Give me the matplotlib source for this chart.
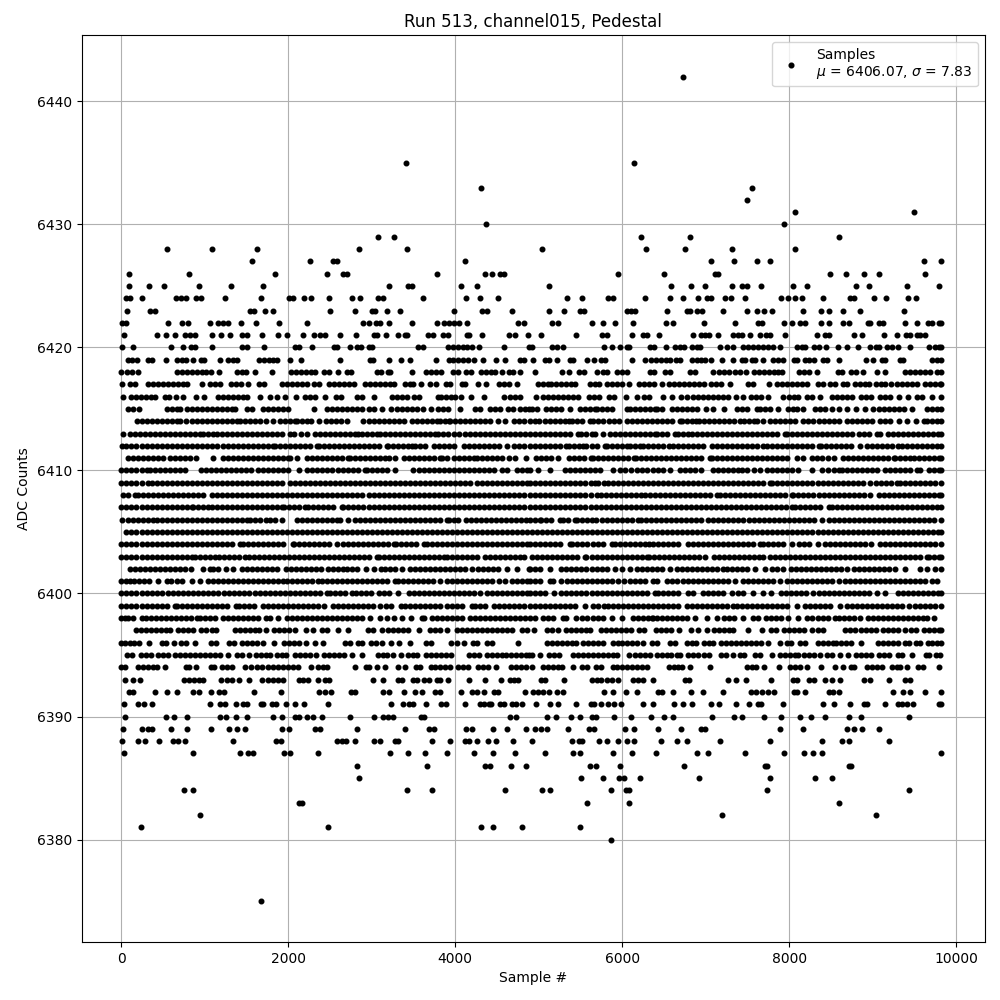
import matplotlib
matplotlib.use('Agg')
import matplotlib.pyplot as plt

# sample numbers, one list per ADC level
s6443 = [8024]
s6442 = [6730]
s6435 = [3413, 6144]
s6433 = [4311, 7557]
s6432 = [7497]
s6431 = [8072, 9497]
s6430 = [4371, 7940]
s6429 = [3078, 3269, 6228, 6814, 8599]
s6428 = [548, 1088, 1628, 2852, 3416, 5040, 6288, 6756, 7320, 8076]
s6427 = [1568, 2264, 2540, 2580, 4112, 7068, 7344, 7612, 7776, 9612, 9816]
s6426 = [92, 812, 1844, 2468, 2660, 2700, 3776, 4352, 4436, 4540, 4588, 5952, 6504, 7116, 7152, 8484, 8676, 8892, 9072, 9628]
s6425 = [92, 332, 512, 932, 1316, 1700, 3200, 3428, 3480, 4064, 4256, 5124, 6588, 6828, 6996, 7320, 7440, 7500, 7668, 8052, 8220, 8796, 8952, 9408, 9792]
s6424 = [52, 108, 248, 656, 712, 776, 896, 956, 1244, 1676, 2012, 2060, 2192, 2276, 2492, 2768, 2864, 3068, 3128, 3608, 4124, 4292, 4508, 5340, 5520, 5832, 5892, 6276, 6576, 6724, 6912, 7020, 7060, 7236, 7308, 7476, 7908, 7992, 8068, 8160, 8400, 8732, 8780, 9012, 9156, 9420, 9516]
s6423 = [68, 344, 404, 1540, 1592, 1724, 1820, 2504, 2804, 3000, 3032, 3176, 3332, 3980, 4316, 4380, 4676, 5124, 5304, 5496, 5544, 6060, 6108, 6152, 6540, 6780, 6812, 6900, 6960, 7212, 7500, 7620, 7704, 7800, 8172, 8376, 8472, 8640, 8844, 9372]
s6422 = [4, 60, 560, 728, 800, 1060, 1160, 1220, 1280, 1436, 1616, 1892, 2220, 2900, 2960, 3044, 3092, 3200, 3476, 3776, 3868, 3920, 3980, 4040, 4140, 4748, 4820, 5160, 5232, 5640, 5772, 5916, 6132, 6528, 6612, 6984, 7356, 7632, 7672, 7944, 8040, 8132, 8196, 8376, 8472, 8640, 8712, 8940, 8972, 9072, 9120, 9384, 9528, 9660, 9712, 9792, 9820]
s6421 = [32, 428, 536, 644, 764, 820, 884, 1088, 1196, 1304, 1448, 1508, 1688, 1880, 1988, 2180, 2312, 2380, 2440, 2624, 2816, 3020, 3060, 3164, 3308, 3392, 3420, 3668, 3728, 3848, 3908, 4140, 4160, 4316, 4640, 4712, 4868, 5024, 5448, 5760, 5820, 6120, 6252, 6292, 6444, 6852, 6948, 6996, 7044, 7144, 7332, 7392, 7440, 7528, 7656, 7728, 7776, 7956, 8328, 8424, 8472, 8772, 8868, 9132, 9288, 9396, 9444, 9528, 9564, 9624]
s6420 = [8, 140, 596, 740, 836, 884, 1088, 1448, 1508, 1712, 2084, 2132, 2288, 2552, 2588, 2744, 2828, 2876, 2960, 2996, 3548, 3608, 3908, 3968, 4028, 4088, 4136, 4196, 4280, 4580, 4884, 4920, 5160, 5220, 5292, 5784, 5880, 5976, 6060, 6084, 6336, 6384, 6528, 6636, 6696, 6744, 6840, 6900, 6936, 7176, 7260, 7332, 7452, 7512, 7572, 7632, 7692, 7752, 7812, 7896, 8100, 8160, 8196, 8304, 8352, 8436, 8580, 8688, 8820, 8964, 9036, 9072, 9168, 9228, 9300, 9444, 9672, 9744, 9792, 9820]
s6419 = [80, 128, 188, 320, 368, 536, 668, 728, 776, 860, 956, 992, 1184, 1280, 1340, 1388, 1652, 1712, 1772, 1820, 1868, 2024, 2156, 2624, 2972, 3008, 3200, 3344, 3452, 3764, 3920, 3968, 4028, 4088, 4148, 4220, 4328, 4484, 4592, 4772, 4820, 4932, 5076, 5124, 5220, 5376, 5412, 5580, 5664, 5748, 5796, 6120, 6276, 6348, 6408, 6468, 6528, 6576, 6648, 6696, 6840, 6900, 6948, 6996, 7068, 7200, 7332, 7440, 7476, 7560, 7596, 7692, 7812, 7872, 7932, 8064, 8100, 8196, 8244, 8304, 8400, 8448, 8592, 8916, 9000, 9108, 9144, 9324, 9360, 9708, 9768, 9820]
s6418 = [0, 68, 128, 200, 668, 728, 788, 848, 908, 968, 1016, 1076, 1172, 1388, 1448, 1496, 1604, 1808, 2036, 2096, 2156, 2216, 2276, 2324, 2432, 2492, 2600, 2708, 2756, 3056, 3104, 3188, 3212, 3476, 3644, 3704, 3764, 3824, 3968, 4028, 4124, 4184, 4304, 4364, 4424, 4472, 4556, 4640, 4688, 4772, 4952, 5280, 5364, 5484, 5544, 5700, 5772, 5820, 5940, 6000, 6060, 6336, 6384, 6516, 6576, 6816, 6876, 7092, 7164, 7224, 7284, 7356, 7416, 7488, 7584, 7644, 7704, 7764, 7824, 7872, 7920, 8124, 8184, 8244, 8328, 8580, 8628, 8736, 8796, 8880, 9048, 9144, 9384, 9444, 9504, 9564, 9624, 9684, 9768, 9816]
s6417 = [8, 104, 164, 320, 380, 440, 500, 560, 620, 680, 740, 788, 968, 1064, 1124, 1184, 1316, 1376, 1436, 1520, 1652, 1712, 1928, 1988, 2048, 2108, 2168, 2228, 2312, 2372, 2492, 2552, 2612, 2672, 2732, 2792, 2912, 2972, 3032, 3092, 3152, 3212, 3260, 3392, 3452, 3488, 3584, 3692, 3764, 3884, 3932, 4076, 4112, 4268, 4364, 4520, 4580, 4640, 4740, 4992, 5052, 5112, 5148, 5208, 5268, 5328, 5388, 5436, 5616, 5676, 5724, 5820, 5880, 5940, 6000, 6084, 6204, 6264, 6324, 6384, 6476, 6564, 6624, 6684, 6744, 6804, 6864, 6924, 6984, 7068, 7128, 7188, 7296, 7512, 7572, 7764, 7860, 7920, 7980, 8040, 8100, 8160, 8220, 8340, 8400, 8484, 8544, 8640, 8688, 8784, 8844, 8904, 8952, 9036, 9096, 9144, 9216, 9288, 9348, 9408, 9468, 9528, 9624, 9684, 9744, 9804, 9820]
s6416 = [20, 116, 176, 236, 296, 356, 404, 524, 572, 656, 740, 896, 992, 1160, 1220, 1280, 1340, 1400, 1460, 1508, 1664, 1784, 1868, 1964, 2096, 2204, 2264, 2324, 2444, 2576, 2636, 2828, 2888, 3020, 3236, 3296, 3356, 3416, 3500, 3560, 3788, 3824, 3884, 3944, 3992, 4064, 4184, 4340, 4580, 4652, 4712, 4772, 4968, 5052, 5112, 5172, 5232, 5292, 5352, 5412, 5476, 5604, 5664, 5724, 5844, 5904, 6048, 6180, 6264, 6324, 6492, 6600, 6708, 6780, 6852, 6912, 6972, 7032, 7092, 7152, 7212, 7272, 7368, 7452, 7548, 7608, 7668, 7752, 7932, 8004, 8064, 8112, 8220, 8280, 8364, 8508, 8568, 8628, 8688, 8748, 8856, 8916, 8976, 9084, 9144, 9204, 9312, 9420, 9528, 9588, 9708, 9820]
s6415 = [80, 140, 212, 540, 600, 660, 700, 780, 840, 900, 964, 1024, 1084, 1144, 1204, 1264, 1324, 1360, 1508, 1568, 1700, 1760, 1820, 1880, 1940, 2000, 2312, 2460, 2520, 2580, 2640, 2700, 2760, 2820, 2880, 2960, 3020, 3120, 3224, 3300, 3360, 3420, 3480, 3540, 3612, 3708, 3788, 3848, 3908, 4052, 4240, 4300, 4420, 4480, 4540, 4628, 4688, 4772, 4832, 4888, 4920, 4980, 5092, 5152, 5212, 5272, 5376, 5492, 5552, 5612, 5672, 5700, 5760, 5820, 5880, 6060, 6092, 6152, 6212, 6272, 6332, 6392, 6412, 6480, 6592, 6652, 6712, 6772, 6832, 6892, 7004, 7092, 7220, 7372, 7432, 7500, 7612, 7652, 7712, 7772, 7872, 7992, 8052, 8092, 8172, 8312, 8372, 8432, 8512, 8592, 8692, 8804, 8912, 9000, 9072, 9132, 9192, 9252, 9312, 9372, 9472, 9652, 9712, 9772, 9820]
s6414 = [188, 248, 308, 368, 428, 488, 548, 608, 668, 700, 772, 840, 900, 960, 1020, 1080, 1140, 1200, 1260, 1320, 1380, 1420, 1480, 1540, 1600, 1660, 1728, 1812, 1900, 1960, 2020, 2080, 2108, 2164, 2224, 2268, 2364, 2448, 2508, 2568, 2628, 2700, 2900, 2960, 3020, 3080, 3140, 3200, 3260, 3320, 3388, 3480, 3540, 3600, 3660, 3720, 3780, 3820, 3880, 3920, 3940, 4000, 4060, 4120, 4180, 4240, 4300, 4360, 4420, 4508, 4592, 4700, 4760, 4820, 4900, 4960, 5004, 5072, 5132, 5192, 5252, 5312, 5364, 5404, 5464, 5524, 5612, 5652, 5712, 5764, 5840, 5900, 5964, 6060, 6120, 6180, 6240, 6300, 6360, 6420, 6480, 6540, 6600, 6692, 6712, 6772, 6832, 6880, 6920, 6980, 7040, 7100, 7160, 7220, 7280, 7340, 7412, 7464, 7524, 7580, 7612, 7692, 7772, 7836, 7896, 7956, 8016, 8076, 8164, 8232, 8292, 8352, 8412, 8472, 8532, 8592, 8692, 8752, 8812, 8872, 8932, 8992, 9092, 9152, 9212, 9312, 9408, 9520, 9612, 9652, 9712, 9772, 9820]
s6413 = [20, 100, 160, 220, 280, 340, 400, 460, 520, 580, 640, 700, 760, 820, 880, 940, 972, 1040, 1100, 1140, 1200, 1260, 1320, 1380, 1440, 1500, 1560, 1620, 1680, 1740, 1800, 1860, 1920, 2020, 2072, 2152, 2228, 2320, 2380, 2440, 2500, 2560, 2620, 2680, 2740, 2800, 2840, 2880, 2940, 3000, 3060, 3092, 3152, 3212, 3272, 3332, 3392, 3452, 3512, 3572, 3632, 3692, 3760, 3788, 3848, 3908, 3980, 4040, 4120, 4180, 4240, 4300, 4360, 4420, 4480, 4540, 4600, 4660, 4720, 4780, 4840, 4900, 4960, 5020, 5080, 5140, 5200, 5260, 5320, 5380, 5472, 5512, 5572, 5632, 5672, 5772, 5852, 5912, 5972, 6032, 6092, 6152, 6212, 6272, 6332, 6392, 6412, 6472, 6532, 6632, 6672, 6732, 6792, 6832, 6892, 6952, 7012, 7072, 7132, 7192, 7252, 7312, 7372, 7432, 7492, 7552, 7612, 7672, 7732, 7792, 7852, 7952, 7972, 8032, 8092, 8152, 8212, 8272, 8332, 8392, 8452, 8512, 8572, 8632, 8692, 8752, 8832, 8892, 8952, 9052, 9092, 9180, 9240, 9300, 9360, 9420, 9480, 9540, 9600, 9660, 9720, 9780, 9820]
s6412 = [8, 60, 120, 180, 240, 300, 360, 420, 480, 540, 600, 660, 720, 780, 840, 900, 960, 1020, 1080, 1140, 1220, 1280, 1340, 1400, 1460, 1520, 1580, 1640, 1700, 1760, 1820, 1840, 1900, 1960, 2020, 2080, 2140, 2200, 2260, 2340, 2368, 2428, 2488, 2548, 2608, 2668, 2728, 2788, 2848, 2908, 2968, 3028, 3088, 3180, 3192, 3252, 3312, 3372, 3432, 3480, 3520, 3580, 3640, 3740, 3800, 3860, 3920, 3980, 4100, 4160, 4220, 4280, 4340, 4400, 4460, 4520, 4620, 4700, 4760, 4820, 4900, 4960, 5020, 5080, 5140, 5200, 5260, 5332, 5364, 5424, 5484, 5532, 5572, 5632, 5692, 5792, 5812, 5872, 5932, 5992, 6052, 6092, 6152, 6212, 6244, 6304, 6364, 6424, 6484, 6564, 6604, 6664, 6724, 6784, 6844, 6904, 6964, 7072, 7132, 7192, 7252, 7312, 7372, 7432, 7492, 7552, 7612, 7692, 7740, 7800, 7860, 7920, 7980, 8040, 8100, 8160, 8220, 8280, 8352, 8380, 8440, 8500, 8560, 8620, 8680, 8740, 8852, 8932, 8992, 9052, 9112, 9172, 9232, 9300, 9352, 9412, 9472, 9532, 9592, 9652, 9712, 9772, 9820]
s6411 = [80, 140, 200, 260, 320, 380, 440, 500, 580, 640, 700, 760, 820, 892, 1100, 1220, 1280, 1340, 1400, 1460, 1520, 1580, 1640, 1700, 1760, 1820, 1880, 1940, 2000, 2020, 2100, 2220, 2280, 2340, 2400, 2460, 2520, 2580, 2640, 2720, 2740, 2800, 2860, 2920, 2980, 3040, 3100, 3160, 3208, 3280, 3380, 3440, 3500, 3560, 3620, 3680, 3740, 3820, 3840, 3900, 3980, 4040, 4100, 4160, 4220, 4260, 4320, 4380, 4440, 4500, 4560, 4640, 4720, 4848, 4964, 5024, 5084, 5144, 5232, 5364, 5424, 5484, 5544, 5624, 5652, 5712, 5772, 5832, 5892, 5952, 6012, 6072, 6140, 6164, 6224, 6284, 6344, 6404, 6464, 6524, 6584, 6644, 6704, 6764, 6824, 6884, 6944, 7052, 7072, 7132, 7192, 7252, 7312, 7372, 7432, 7492, 7552, 7612, 7672, 7732, 7792, 7852, 7912, 7972, 8092, 8164, 8272, 8332, 8392, 8464, 8540, 8640, 8700, 8760, 8820, 8880, 8940, 9000, 9060, 9120, 9180, 9252, 9272, 9332, 9392, 9452, 9492, 9552, 9612, 9672, 9732, 9792, 9820]
s6410 = [0, 60, 120, 180, 240, 300, 340, 400, 460, 520, 580, 640, 700, 760, 952, 1012, 1072, 1132, 1192, 1252, 1312, 1372, 1432, 1492, 1552, 1640, 1700, 1760, 1820, 1880, 1940, 2000, 2132, 2220, 2280, 2340, 2400, 2460, 2520, 2600, 2660, 2720, 2780, 2840, 2920, 2940, 3000, 3060, 3120, 3180, 3280, 3492, 3568, 3628, 3688, 3748, 3808, 3868, 3928, 3988, 4048, 4108, 4168, 4228, 4288, 4348, 4408, 4468, 4560, 4620, 4740, 4800, 4860, 4900, 4992, 5132, 5312, 5372, 5432, 5492, 5552, 5612, 5672, 5732, 5892, 5972, 6032, 6100, 6172, 6232, 6292, 6372, 6432, 6492, 6572, 6692, 6752, 6812, 6872, 6944, 7092, 7152, 7212, 7272, 7332, 7392, 7432, 7500, 7580, 7652, 7732, 7792, 7852, 7912, 7972, 8032, 8112, 8272, 8392, 8464, 8532, 8592, 8632, 8692, 8752, 8812, 8872, 8932, 8992, 9052, 9152, 9212, 9272, 9332, 9392, 9452, 9532, 9572, 9672, 9732, 9792, 9820]
s6409 = [0, 60, 120, 180, 240, 320, 360, 420, 480, 540, 600, 660, 720, 780, 840, 900, 960, 1020, 1080, 1140, 1200, 1260, 1320, 1380, 1440, 1500, 1560, 1620, 1680, 1740, 1800, 1860, 1920, 2020, 2080, 2140, 2200, 2260, 2320, 2380, 2440, 2500, 2560, 2620, 2680, 2740, 2800, 2860, 2920, 2980, 3040, 3100, 3160, 3220, 3280, 3340, 3400, 3460, 3520, 3580, 3640, 3700, 3760, 3820, 3880, 3940, 4000, 4060, 4120, 4180, 4260, 4320, 4380, 4440, 4500, 4560, 4620, 4680, 4740, 4800, 4860, 4900, 4960, 5020, 5080, 5140, 5200, 5260, 5320, 5380, 5440, 5500, 5560, 5620, 5672, 5712, 5780, 5832, 5892, 5952, 6012, 6072, 6132, 6192, 6252, 6312, 6372, 6432, 6492, 6552, 6612, 6672, 6732, 6792, 6852, 6912, 6972, 7032, 7092, 7152, 7212, 7272, 7332, 7392, 7452, 7512, 7572, 7632, 7692, 7772, 7800, 7860, 7920, 7980, 8040, 8100, 8160, 8220, 8280, 8340, 8400, 8460, 8520, 8580, 8640, 8700, 8760, 8820, 8880, 8972, 9044, 9104, 9164, 9224, 9292, 9324, 9384, 9444, 9504, 9564, 9624, 9684, 9744, 9820]
s6408 = [20, 80, 160, 200, 260, 320, 380, 440, 500, 560, 620, 680, 740, 800, 860, 920, 980, 1080, 1140, 1200, 1260, 1320, 1380, 1440, 1500, 1560, 1620, 1680, 1740, 1800, 1860, 1920, 1980, 2040, 2100, 2160, 2220, 2280, 2340, 2400, 2460, 2520, 2580, 2640, 2700, 2760, 2820, 2880, 2960, 3020, 3080, 3140, 3200, 3260, 3320, 3380, 3440, 3500, 3560, 3620, 3680, 3740, 3800, 3860, 3920, 3980, 4040, 4100, 4160, 4220, 4280, 4340, 4400, 4460, 4520, 4580, 4640, 4700, 4760, 4820, 4900, 4960, 5020, 5080, 5140, 5200, 5260, 5320, 5380, 5440, 5500, 5560, 5620, 5692, 5740, 5800, 5860, 5920, 5980, 6040, 6100, 6160, 6220, 6272, 6332, 6392, 6452, 6512, 6572, 6632, 6692, 6752, 6812, 6872, 6932, 6992, 7052, 7132, 7172, 7232, 7292, 7352, 7412, 7472, 7532, 7592, 7652, 7712, 7772, 7832, 7892, 7952, 8032, 8052, 8112, 8172, 8232, 8292, 8352, 8412, 8472, 8532, 8592, 8652, 8712, 8772, 8832, 8892, 8972, 9072, 9132, 9192, 9252, 9312, 9372, 9432, 9492, 9552, 9612, 9672, 9732, 9792, 9820]
s6407 = [0, 60, 120, 180, 240, 300, 360, 420, 480, 540, 600, 660, 720, 780, 840, 860, 920, 980, 1040, 1080, 1140, 1200, 1260, 1320, 1380, 1440, 1500, 1560, 1620, 1680, 1740, 1800, 1860, 1920, 1950, 2010, 2070, 2130, 2200, 2240, 2300, 2360, 2420, 2480, 2540, 2640, 2660, 2720, 2780, 2840, 2900, 2960, 3020, 3080, 3140, 3200, 3260, 3320, 3380, 3440, 3500, 3560, 3620, 3680, 3740, 3800, 3860, 3920, 3980, 4040, 4100, 4160, 4220, 4280, 4340, 4400, 4460, 4520, 4580, 4640, 4700, 4760, 4820, 4900, 4960, 5020, 5080, 5140, 5200, 5260, 5320, 5380, 5440, 5500, 5560, 5620, 5680, 5740, 5800, 5860, 5920, 5980, 6040, 6100, 6160, 6220, 6280, 6340, 6400, 6460, 6520, 6580, 6640, 6700, 6760, 6820, 6880, 6940, 7000, 7060, 7120, 7180, 7240, 7300, 7360, 7420, 7480, 7540, 7600, 7660, 7720, 7780, 7840, 7900, 7960, 8032, 8072, 8132, 8192, 8252, 8312, 8372, 8472, 8512, 8572, 8632, 8692, 8752, 8812, 8872, 8932, 8992, 9052, 9112, 9172, 9232, 9292, 9352, 9412, 9472, 9532, 9592, 9652, 9712, 9772, 9820]
s6406 = [8, 80, 140, 200, 260, 320, 380, 420, 480, 540, 600, 660, 720, 780, 840, 900, 960, 1020, 1080, 1140, 1200, 1260, 1320, 1380, 1440, 1500, 1540, 1600, 1660, 1728, 1780, 1840, 1920, 2100, 2160, 2220, 2280, 2340, 2400, 2460, 2520, 2580, 2620, 2720, 2800, 2860, 2920, 2980, 3040, 3100, 3160, 3220, 3280, 3340, 3400, 3460, 3520, 3580, 3640, 3700, 3760, 3820, 3900, 3920, 3980, 4028, 4128, 4188, 4248, 4308, 4368, 4428, 4488, 4548, 4608, 4668, 4728, 4788, 4848, 4900, 4960, 5012, 5032, 5092, 5152, 5252, 5292, 5352, 5432, 5460, 5520, 5580, 5640, 5684, 5752, 5812, 5872, 5932, 5992, 6052, 6112, 6192, 6220, 6280, 6340, 6400, 6460, 6520, 6580, 6640, 6700, 6760, 6820, 6880, 6940, 7032, 7092, 7152, 7212, 7272, 7332, 7392, 7452, 7524, 7584, 7644, 7704, 7764, 7824, 7884, 7944, 8004, 8064, 8124, 8184, 8244, 8304, 8392, 8480, 8540, 8600, 8660, 8720, 8780, 8840, 8900, 8960, 9020, 9080, 9140, 9200, 9260, 9320, 9380, 9440, 9500, 9560, 9620, 9680, 9740, 9820]
s6405 = [60, 120, 180, 240, 300, 360, 420, 480, 540, 600, 660, 720, 780, 840, 900, 960, 1020, 1080, 1140, 1200, 1260, 1320, 1380, 1440, 1500, 1560, 1620, 1680, 1740, 1800, 1860, 1920, 1980, 2040, 2100, 2160, 2220, 2280, 2340, 2400, 2460, 2520, 2580, 2640, 2700, 2760, 2820, 2880, 2940, 3000, 3060, 3120, 3180, 3240, 3300, 3360, 3420, 3480, 3540, 3600, 3660, 3720, 3780, 3840, 3900, 3960, 4020, 4080, 4140, 4200, 4260, 4320, 4380, 4440, 4500, 4560, 4620, 4680, 4740, 4800, 4860, 4920, 4980, 5040, 5100, 5160, 5220, 5280, 5340, 5400, 5460, 5520, 5580, 5640, 5700, 5760, 5820, 5880, 5940, 6000, 6060, 6120, 6180, 6240, 6300, 6360, 6420, 6480, 6540, 6600, 6660, 6720, 6780, 6840, 6900, 6960, 7020, 7080, 7140, 7200, 7260, 7320, 7380, 7440, 7500, 7560, 7620, 7680, 7740, 7800, 7860, 7920, 7980, 8040, 8100, 8160, 8220, 8280, 8340, 8400, 8460, 8520, 8580, 8640, 8700, 8760, 8820, 8880, 8940, 9000, 9060, 9120, 9180, 9240, 9300, 9360, 9420, 9480, 9540, 9600, 9660, 9720, 9780, 9820]
s6404 = [0, 60, 120, 180, 240, 300, 360, 420, 480, 540, 600, 660, 720, 780, 840, 900, 960, 1020, 1080, 1140, 1200, 1260, 1320, 1420, 1460, 1520, 1580, 1640, 1700, 1760, 1820, 1880, 1940, 2052, 2072, 2132, 2192, 2252, 2312, 2372, 2432, 2492, 2588, 2652, 2712, 2772, 2832, 2892, 2952, 3012, 3072, 3132, 3192, 3260, 3292, 3352, 3412, 3472, 3532, 3620, 3660, 3720, 3780, 3840, 3900, 3960, 4020, 4080, 4140, 4200, 4260, 4320, 4380, 4440, 4500, 4560, 4620, 4680, 4740, 4800, 4860, 4900, 4960, 5020, 5080, 5140, 5200, 5260, 5372, 5404, 5464, 5524, 5584, 5644, 5704, 5764, 5872, 5912, 5972, 6032, 6092, 6152, 6212, 6272, 6324, 6364, 6424, 6484, 6544, 6604, 6664, 6792, 6852, 6912, 6972, 7032, 7092, 7152, 7212, 7272, 7332, 7392, 7452, 7512, 7572, 7652, 7692, 7752, 7812, 7872, 7932, 8032, 8124, 8184, 8244, 8340, 8432, 8492, 8552, 8612, 8672, 8732, 8792, 8852, 8912, 8980, 9084, 9144, 9204, 9264, 9324, 9384, 9444, 9504, 9564, 9624, 9684, 9744, 9820]
s6403 = [0, 60, 120, 180, 240, 300, 360, 420, 480, 540, 600, 660, 720, 780, 840, 880, 940, 1000, 1060, 1120, 1172, 1232, 1292, 1352, 1412, 1480, 1528, 1588, 1648, 1708, 1768, 1828, 1888, 1948, 2008, 2068, 2128, 2188, 2248, 2308, 2368, 2428, 2488, 2548, 2608, 2668, 2728, 2788, 2848, 2908, 2968, 3060, 3080, 3140, 3200, 3260, 3320, 3380, 3440, 3500, 3560, 3620, 3680, 3740, 3800, 3860, 3900, 3960, 4020, 4080, 4140, 4200, 4260, 4360, 4420, 4480, 4540, 4600, 4660, 4720, 4780, 4828, 4924, 4984, 5044, 5104, 5164, 5224, 5284, 5344, 5404, 5464, 5552, 5572, 5632, 5692, 5752, 5812, 5872, 5932, 5992, 6052, 6112, 6172, 6232, 6292, 6324, 6384, 6444, 6504, 6564, 6624, 6684, 6744, 6804, 6864, 6924, 6992, 7100, 7160, 7220, 7280, 7340, 7400, 7460, 7520, 7580, 7640, 7692, 7772, 7832, 7892, 7952, 8012, 8072, 8132, 8192, 8252, 8312, 8372, 8432, 8492, 8552, 8612, 8672, 8732, 8792, 8852, 8912, 8972, 9032, 9092, 9152, 9212, 9272, 9332, 9392, 9452, 9512, 9572, 9652, 9672, 9732, 9792, 9820]
s6402 = [100, 160, 220, 280, 340, 400, 460, 520, 580, 640, 700, 760, 828, 980, 1060, 1100, 1160, 1252, 1332, 1440, 1500, 1560, 1620, 1680, 1740, 1800, 1860, 1968, 2028, 2088, 2148, 2208, 2268, 2328, 2388, 2480, 2540, 2600, 2660, 2708, 2768, 2828, 2932, 3020, 3108, 3160, 3220, 3280, 3360, 3460, 3520, 3580, 3640, 3700, 3760, 3820, 3880, 3940, 4000, 4060, 4120, 4200, 4272, 4332, 4392, 4452, 4512, 4620, 4740, 4880, 4900, 4960, 5020, 5132, 5272, 5332, 5392, 5452, 5512, 5572, 5632, 5692, 5752, 5812, 5912, 5992, 6092, 6172, 6232, 6292, 6352, 6412, 6472, 6572, 6660, 6720, 6780, 6840, 6900, 6960, 7020, 7080, 7140, 7204, 7252, 7312, 7372, 7432, 7492, 7592, 7712, 7792, 7852, 7932, 8020, 8080, 8140, 8200, 8260, 8320, 8380, 8440, 8500, 8560, 8620, 8692, 8772, 8832, 8892, 8952, 9012, 9072, 9132, 9192, 9272, 9392, 9564, 9652, 9752, 9820]
s6401 = [0, 60, 108, 148, 208, 268, 332, 440, 540, 588, 668, 728, 840, 940, 1040, 1100, 1160, 1220, 1280, 1340, 1400, 1460, 1520, 1580, 1640, 1700, 1760, 1820, 1880, 1932, 1980, 2040, 2100, 2160, 2220, 2280, 2360, 2400, 2460, 2520, 2580, 2640, 2700, 2760, 2820, 2880, 2940, 3000, 3060, 3120, 3180, 3280, 3312, 3372, 3432, 3492, 3552, 3612, 3672, 3732, 3820, 3900, 3960, 4020, 4080, 4140, 4200, 4260, 4320, 4380, 4440, 4520, 4600, 4680, 4740, 4800, 4860, 4900, 4960, 5020, 5132, 5172, 5272, 5340, 5400, 5460, 5520, 5580, 5640, 5700, 5760, 5820, 5880, 5952, 6024, 6092, 6152, 6212, 6272, 6372, 6420, 6540, 6600, 6660, 6732, 6792, 6852, 6912, 6972, 7032, 7092, 7152, 7212, 7272, 7352, 7452, 7512, 7572, 7632, 7692, 7752, 7812, 7892, 7972, 8032, 8092, 8152, 8212, 8272, 8332, 8392, 8452, 8512, 8592, 8672, 8732, 8792, 8852, 8912, 8972, 9032, 9092, 9152, 9212, 9272, 9332, 9392, 9452, 9512, 9572, 9632, 9712, 9772]
s6400 = [0, 60, 120, 180, 240, 300, 360, 420, 480, 560, 620, 680, 740, 800, 860, 920, 980, 1040, 1100, 1160, 1228, 1292, 1352, 1412, 1472, 1532, 1600, 1660, 1720, 1780, 1840, 1900, 1960, 2020, 2080, 2140, 2200, 2260, 2320, 2380, 2460, 2500, 2560, 2620, 2680, 2760, 2812, 2872, 2932, 2992, 3080, 3148, 3208, 3312, 3440, 3500, 3560, 3620, 3680, 3740, 3800, 3860, 3920, 3980, 4040, 4100, 4160, 4220, 4300, 4380, 4440, 4500, 4560, 4620, 4680, 4740, 4800, 4860, 4900, 4960, 5020, 5080, 5188, 5272, 5332, 5392, 5452, 5512, 5572, 5632, 5692, 5752, 5812, 5872, 5932, 5992, 6052, 6112, 6172, 6232, 6292, 6392, 6432, 6492, 6552, 6612, 6672, 6792, 6852, 6972, 7032, 7092, 7152, 7212, 7312, 7392, 7452, 7572, 7692, 7780, 7900, 7960, 8020, 8080, 8140, 8200, 8292, 8352, 8412, 8480, 8540, 8600, 8660, 8720, 8780, 8840, 8900, 8960, 9052, 9152, 9304, 9364, 9424, 9484, 9544, 9604, 9664, 9724, 9784, 9820]
s6399 = [0, 60, 120, 180, 240, 300, 360, 420, 480, 540, 640, 668, 728, 788, 848, 908, 968, 1028, 1088, 1148, 1208, 1268, 1372, 1412, 1472, 1532, 1592, 1700, 1760, 1820, 1880, 1940, 2000, 2060, 2120, 2180, 2240, 2300, 2360, 2428, 2532, 2592, 2652, 2712, 2772, 2832, 2892, 2952, 3012, 3100, 3172, 3232, 3348, 3400, 3460, 3520, 3580, 3640, 3700, 3760, 3820, 3900, 3960, 4020, 4080, 4200, 4240, 4300, 4360, 4460, 4520, 4580, 4640, 4700, 4760, 4820, 4900, 4960, 5020, 5080, 5140, 5200, 5260, 5320, 5380, 5440, 5552, 5644, 5704, 5780, 5832, 5892, 5952, 6012, 6072, 6132, 6192, 6252, 6312, 6372, 6432, 6492, 6552, 6612, 6672, 6772, 6840, 6900, 6960, 7020, 7080, 7140, 7200, 7260, 7332, 7380, 7440, 7500, 7560, 7620, 7680, 7740, 7800, 7860, 7920, 7980, 8092, 8192, 8252, 8312, 8372, 8432, 8492, 8612, 8692, 8752, 8812, 8872, 8932, 8992, 9052, 9112, 9172, 9232, 9292, 9352, 9432, 9512, 9572, 9632, 9692, 9752, 9820]
s6398 = [0, 40, 80, 140, 240, 292, 352, 412, 472, 532, 592, 652, 712, 772, 832, 900, 940, 1000, 1060, 1120, 1212, 1280, 1340, 1400, 1460, 1520, 1580, 1640, 1732, 1780, 1880, 1988, 2048, 2108, 2168, 2228, 2288, 2348, 2408, 2468, 2528, 2588, 2648, 2708, 2768, 2828, 2888, 2980, 3092, 3180, 3260, 3360, 3468, 3600, 3620, 3720, 3780, 3840, 3900, 3960, 4020, 4080, 4180, 4240, 4300, 4360, 4420, 4480, 4540, 4600, 4660, 4720, 4780, 4840, 4900, 4960, 5052, 5112, 5172, 5292, 5332, 5452, 5524, 5584, 5644, 5704, 5764, 5872, 5992, 6124, 6184, 6244, 6304, 6372, 6352, 6412, 6472, 6532, 6592, 6652, 6712, 6772, 6872, 7020, 7140, 7220, 7280, 7340, 7444, 7564, 7624, 7724, 7780, 7840, 7900, 7984, 8112, 8220, 8280, 8340, 8400, 8460, 8552, 8592, 8652, 8712, 8772, 8852, 8940, 9000, 9060, 9120, 9180, 9240, 9300, 9360, 9420, 9480, 9540, 9600, 9652, 9740]
s6397 = [176, 236, 296, 356, 416, 476, 536, 584, 680, 740, 800, 860, 956, 1016, 1088, 1136, 1364, 1424, 1484, 1544, 1604, 1652, 1736, 1832, 1892, 1952, 2012, 2084, 2216, 2300, 2408, 2468, 2600, 2720, 2948, 3008, 3116, 3188, 3248, 3308, 3368, 3428, 3560, 3692, 3752, 3812, 3896, 4016, 4076, 4136, 4196, 4256, 4316, 4376, 4436, 4496, 4556, 4616, 4676, 4796, 4856, 4944, 5100, 5160, 5232, 5328, 5388, 5448, 5508, 5568, 5616, 5748, 5808, 5868, 5928, 5988, 6048, 6108, 6204, 6264, 6408, 6468, 6528, 6588, 6684, 6828, 6912, 7020, 7104, 7164, 7224, 7284, 7332, 7512, 7680, 7788, 7848, 7944, 8004, 8064, 8124, 8184, 8280, 8340, 8400, 8664, 8724, 8784, 8856, 8916, 8976, 9036, 9120, 9180, 9240, 9300, 9384, 9456, 9516, 9612, 9672, 9732, 9792, 9820]
s6396 = [0, 40, 100, 148, 212, 332, 488, 536, 632, 716, 776, 884, 1076, 1136, 1292, 1352, 1448, 1508, 1568, 1628, 1700, 1832, 1952, 2012, 2072, 2132, 2216, 2324, 2420, 2684, 2744, 2840, 2888, 2984, 3044, 3116, 3224, 3320, 3452, 3644, 3704, 3944, 4016, 4100, 4208, 4256, 4376, 4436, 4748, 5100, 5160, 5220, 5280, 5340, 5400, 5448, 5532, 5592, 5652, 5712, 5772, 5892, 5952, 6000, 6060, 6120, 6180, 6252, 6360, 6420, 6576, 6636, 6780, 6840, 6888, 6984, 7044, 7092, 7188, 7248, 7308, 7368, 7428, 7488, 7548, 7608, 7668, 7752, 7896, 7980, 8028, 8136, 8196, 8340, 8400, 8460, 8520, 8556, 8616, 8676, 8736, 8856, 9060, 9120, 9180, 9240, 9300, 9384, 9432, 9516, 9564, 9660, 9708, 9768, 9820]
s6395 = [68, 128, 236, 296, 356, 440, 500, 560, 644, 704, 764, 824, 884, 944, 1004, 1064, 1124, 1184, 1280, 1388, 1448, 1532, 1616, 1676, 1736, 1784, 1868, 1928, 1976, 2084, 2144, 2204, 2264, 2336, 2432, 2492, 2552, 2612, 2672, 2768, 2888, 3068, 3128, 3176, 3248, 3344, 3428, 3488, 3536, 3644, 3704, 3764, 3824, 3884, 3944, 4160, 4220, 4280, 4376, 4436, 4496, 4556, 4604, 4664, 4724, 4784, 4844, 4884, 4920, 5012, 5124, 5184, 5244, 5412, 5472, 5532, 5592, 5652, 5712, 5772, 5832, 5892, 5940, 6084, 6156, 6216, 6276, 6336, 6420, 6480, 6540, 6588, 6660, 6696, 6792, 6852, 6912, 6984, 7044, 7188, 7248, 7332, 7416, 7464, 7596, 7656, 7800, 7896, 7956, 8016, 8076, 8112, 8184, 8244, 8304, 8364, 8448, 8508, 8604, 8700, 8796, 8856, 8916, 8976, 9072, 9132, 9192, 9300, 9348, 9468, 9636, 9672, 9756, 9804]
s6394 = [0, 40, 200, 260, 320, 380, 428, 524, 776, 812, 896, 1076, 1112, 1208, 1268, 1328, 1484, 1556, 1628, 1688, 1760, 1820, 1880, 1940, 2000, 2060, 2120, 2276, 2360, 2420, 2468, 2804, 2924, 2960, 3056, 3152, 3308, 3392, 3524, 3572, 3704, 3752, 3812, 3872, 3932, 4028, 4088, 4148, 4268, 4328, 4388, 4484, 4664, 4724, 4784, 4844, 4920, 5052, 5112, 5172, 5232, 5280, 5412, 5520, 5580, 5688, 5748, 5892, 5940, 6000, 6060, 6120, 6180, 6240, 6300, 6564, 6624, 6672, 6720, 6816, 7056, 7500, 7560, 7608, 7704, 7880, 8016, 8076, 8136, 8212, 8376, 8544, 8640, 8736, 8772, 8928, 8988, 9048, 9108, 9228, 9288, 9324, 9408, 9540, 9600, 9792]
s6393 = [44, 140, 220, 752, 812, 872, 932, 980, 1196, 1260, 1320, 1412, 1532, 1688, 1760, 1820, 1880, 1940, 2132, 2180, 2240, 2360, 2444, 2492, 3008, 3128, 3308, 3360, 3488, 3540, 3620, 3680, 3776, 3820, 3908, 4160, 4352, 4544, 4652, 4700, 4748, 5028, 5076, 5304, 5640, 5692, 5740, 5820, 5880, 5952, 6132, 6192, 6252, 6372, 6756, 6804, 7272, 7368, 7488, 7788, 8052, 8092, 8244, 8304, 8424, 8508, 8604, 8892, 8972, 9192, 9384, 9452]
s6392 = [92, 140, 404, 548, 668, 860, 932, 1076, 1172, 1228, 1592, 1912, 2372, 2440, 2508, 2756, 2804, 3128, 3200, 3380, 3512, 3596, 3752, 3820, 4064, 4196, 4256, 4340, 4460, 4508, 4832, 4932, 4992, 5052, 5124, 5220, 5292, 5784, 5892, 6048, 6180, 6432, 6480, 6612, 6828, 6972, 7212, 7548, 7604, 7680, 7752, 7824, 8064, 8100, 8196, 8472, 8520, 8592, 9240, 9360, 9444, 9624, 9820]
s6391 = [32, 200, 272, 368, 1064, 1184, 1244, 1376, 1460, 1500, 1676, 1700, 1808, 1848, 1976, 2084, 2192, 2480, 3224, 3368, 3440, 3488, 3644, 3824, 3884, 4112, 4292, 4340, 4400, 4428, 4532, 4580, 4676, 4724, 4796, 4968, 5136, 5232, 5448, 5628, 5664, 5748, 5832, 5904, 5988, 6252, 6372, 6624, 6732, 6840, 7068, 7164, 7368, 7524, 7632, 7668, 7932, 8400, 8532, 8724, 8892, 8928, 9144, 9300, 9348, 9408, 9480, 9792, 9820]
s6390 = [44, 536, 632, 788, 1184, 1256, 1376, 1508, 1820, 1928, 2084, 2132, 2220, 2300, 2408, 2744, 3020, 3128, 3188, 3248, 3584, 3620, 4652, 4724, 5100, 5208, 5388, 5496, 5640, 5688, 5904, 6108, 6348, 6504, 6612, 7080, 7344, 7440, 7704, 7908, 8136, 8268, 8424, 8712, 8856, 9432]
s6389 = [20, 248, 312, 368, 596, 788, 1076, 1292, 1388, 1484, 1928, 2012, 2324, 2384, 2828, 3392, 3680, 3740, 4124, 4196, 4448, 4616, 4844, 4956, 5028, 5100, 5352, 5604, 5664, 6036, 6144, 6432, 6708, 6948, 6996, 7896, 8172, 8692, 8772, 8868, 9072]
s6388 = [8, 200, 284, 452, 620, 680, 764, 1340, 1856, 1916, 2588, 2640, 2696, 2804, 3020, 3092, 3272, 3308, 3716, 3932, 4112, 4160, 4256, 4388, 4484, 4688, 4920, 5400, 5484, 5524, 5724, 5820, 5952, 6060, 6144, 6468, 6660, 6780, 7176, 7776, 8388, 8628, 8712, 9192]
s6387 = [32, 860, 1424, 1520, 1580, 1952, 2024, 2360, 3212, 3428, 3632, 3896, 4220, 4448, 4712, 5076, 5412, 5496, 5892, 6120, 6408, 6900, 7032, 7476, 7944, 8184, 8292, 8388, 9820]
s6386 = [2828, 3656, 4352, 4420, 4664, 4844, 5616, 5688, 5976, 6744, 7716, 7740, 8712, 8740]
s6385 = [2852, 5508, 5772, 5964, 6024, 6216, 6924, 7776, 8316, 8508]
s6384 = [752, 860, 3416, 3716, 4592, 5040, 5140, 5868, 6044, 6084, 7740, 9432]
s6383 = [2132, 2168, 5581, 6084, 8599]
s6382 = [946, 7198, 9042]
s6381 = [228, 2479, 4311, 4455, 4802, 5497]
s6380 = [5868]
s6375 = [1677]

levels = [6443, 6442, 6435, 6433, 6432, 6431, 6430, 6429, 6428, 6427, 6426, 6425, 6424, 6423, 6422, 6421,
          6420, 6419, 6418, 6417, 6416, 6415, 6414, 6413, 6412, 6411, 6410, 6409, 6408, 6407, 6406, 6405,
          6404, 6403, 6402, 6401, 6400, 6399, 6398, 6397, 6396, 6395, 6394, 6393, 6392, 6391, 6390, 6389,
          6388, 6387, 6386, 6385, 6384, 6383, 6382, 6381, 6380, 6375]
rows = [s6443, s6442, s6435, s6433, s6432, s6431, s6430, s6429, s6428, s6427, s6426, s6425, s6424, s6423, s6422, s6421,
        s6420, s6419, s6418, s6417, s6416, s6415, s6414, s6413, s6412, s6411, s6410, s6409, s6408, s6407, s6406, s6405,
        s6404, s6403, s6402, s6401, s6400, s6399, s6398, s6397, s6396, s6395, s6394, s6393, s6392, s6391, s6390, s6389,
        s6388, s6387, s6386, s6385, s6384, s6383, s6382, s6381, s6380, s6375]

x = []
y = []
for level, row in zip(levels, rows):
    x.extend(row)
    y.extend([level] * len(row))

plt.figure(figsize=(10, 10))
plt.plot(x, y, 'k.', markersize=6.6, label='Samples\n$\\mu$ = 6406.07, $\\sigma$ = 7.83')
plt.xlim(-479, 10347)
plt.ylim(6371.67, 6445.4)
plt.grid(True)
plt.title('Run 513, channel015, Pedestal')
plt.xlabel('Sample #')
plt.ylabel('ADC Counts')
plt.legend(loc='upper right')
plt.subplots_adjust(left=0.0815, right=0.985, top=0.965, bottom=0.058)
plt.savefig('out.png', dpi=100)
